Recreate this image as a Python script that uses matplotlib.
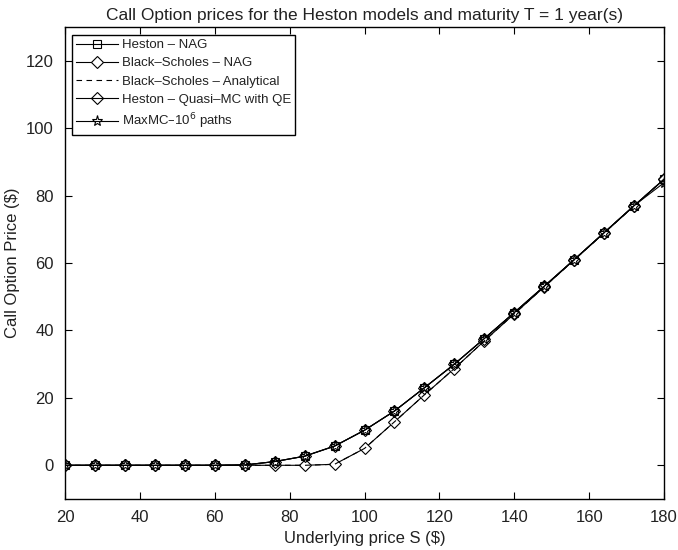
import matplotlib
matplotlib.use("Agg")
import matplotlib.pyplot as plt
import numpy as np

plt.rcParams['font.family'] = ['Liberation Sans', 'DejaVu Sans']

# underlying prices
S = [20, 28, 36, 44, 52, 60, 68, 76, 84, 92, 100, 108, 116, 124, 132, 140, 148, 156, 164, 172, 180]

heston_nag = [0, 0, 0, 0, 0, 0, 0.1, 1.1, 2.7, 5.7, 10.4, 16.1, 23.0, 30.0, 37.6, 45.3, 53.1, 61.0, 69.0, 77.0, 84.8]
bs_nag = [0, 0, 0, 0, 0, 0, 0, 0, 0, 0.3, 5.0, 12.9, 20.9, 28.7, 36.9, 44.9, 52.9, 60.9, 68.9, 76.9, 84.9]
bs_analytical = [0, 0, 0, 0, 0, 0, 0, 0, 0, 0.3, 5.0, 12.9, 20.9, 28.7, 36.9, 44.9, 52.9, 60.9, 68.9, 76.9, 84.9]
heston_qmc = [0, 0, 0, 0, 0, 0, 0.1, 1.1, 2.7, 5.7, 10.4, 16.1, 23.0, 30.0, 37.6, 45.3, 53.1, 61.0, 69.0, 77.0, 84.8]
maxmc = [0, 0, 0, 0, 0, 0, 0.1, 1.1, 2.7, 5.7, 10.4, 16.1, 23.0, 30.0, 37.6, 45.3, 53.1, 61.0, 69.0, 77.0, 83.8]

fig = plt.figure(figsize=(6.78, 5.5), dpi=100)
ax = fig.add_axes([0.0959, 0.0927, 0.8835, 0.8583])

lw = 0.8
ax.plot(S, heston_nag, color='black', lw=lw, marker='s', ms=6, mfc='none', mew=0.8, label='Heston \u2013 NAG')
ax.plot(S, bs_nag, color='black', lw=lw, marker='D', ms=6, mfc='white', mew=0.8, label='Black\u2013Scholes \u2013 NAG')
ax.plot(S, bs_analytical, color='black', lw=lw, ls=(0, (5, 4)), label='Black\u2013Scholes \u2013 Analytical')
ax.plot(S, heston_qmc, color='black', lw=lw, marker='D', ms=6, mfc='none', mew=0.8, label='Heston \u2013 Quasi\u2013MC with QE')
ax.plot(S, maxmc, color='black', lw=lw, marker='*', ms=8, mfc='none', mew=0.8, label='MaxMC\u201310$^6$ paths')

ax.set_xlim(20, 180)
ax.set_ylim(-10, 130)
ax.set_xticks(np.arange(20, 181, 20))
ax.set_yticks(np.arange(0, 121, 20))
ax.tick_params(direction='in', top=True, right=True, labelsize=12, length=5, width=0.8,
               labelcolor='#222222', pad=8)
for sp in ax.spines.values():
    sp.set_linewidth(1.0)

ax.set_xlabel('Underlying price S ($)', fontsize=12, color='#222222')
ax.set_ylabel('Call Option Price ($)', fontsize=12, color='#222222')
ax.set_title('Call Option prices for the Heston models and maturity T = 1 year(s)', fontsize=12.5,
             color='#222222', pad=5)

leg = ax.legend(loc='upper left', bbox_to_anchor=(0.011, 0.983), borderaxespad=0, fontsize=9.5,
                frameon=True, fancybox=False, edgecolor='black', framealpha=1,
                handlelength=3.2, labelspacing=0.45, handletextpad=0.3, borderpad=0.3)
leg.get_frame().set_linewidth(1.0)
for t in leg.get_texts():
    t.set_color('#222222')

fig.savefig('out.png', dpi=100)
